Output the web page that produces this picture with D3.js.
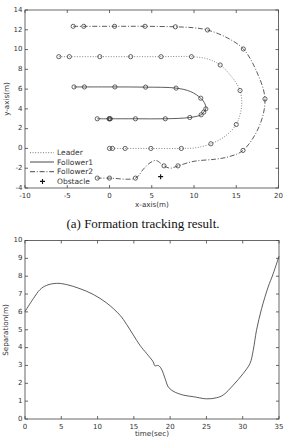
<!DOCTYPE html>
<html>
<head>
<meta charset="utf-8">
<script src="https://cdn.jsdelivr.net/npm/d3@7/dist/d3.min.js"></script>
<style>
  html, body { margin: 0; padding: 0; background: #fff; }
  svg { display: block; }
</style>
</head>
<body>
<svg id="chart" width="285" height="437"></svg>
<script>
// ---------------- DATA ----------------
// Top chart: trajectories (x, y in metres)
const leaderPath = [[-6.0,9.28],[-4.75,9.28],[-1.15,9.28],[2.5,9.28],[6.1,9.28],[9.7,9.28],[11.6,9.05],[13.1,8.44],[14.5,7.2],[15.45,5.86],[15.65,4.4],[15.4,3.3],[15.0,2.42],[13.7,1.25],[12.0,0.47],[10.3,0.08],[8.5,0],[4.9,0],[1.85,0],[0.35,0],[0,0]];
const leaderMarks = [[-6.0,9.28],[-4.75,9.28],[-1.15,9.28],[2.5,9.28],[6.1,9.28],[9.7,9.28],[13.1,8.44],[15.45,5.86],[15.0,2.42],[12.0,0.47],[8.5,0],[4.9,0],[1.85,0],[0.35,0],[0,0]];

const follower1Path = [[-4.2,6.22],[-2.97,6.22],[0.64,6.22],[4.27,6.2],[7.88,6.1],[9.6,5.75],[10.8,5.08],[11.3,4.5],[11.4,4.0],[11.15,3.67],[10.85,3.4],[9.5,3.13],[6.6,3.0],[3.07,3.0],[0,3.0],[-1.45,3.0]];
const follower1Marks = [[-4.2,6.22],[-2.97,6.22],[0.64,6.22],[4.27,6.2],[7.88,6.1],[10.8,5.08],[11.4,4.0],[11.15,3.67],[10.85,3.4],[9.5,3.13],[6.6,3.0],[3.07,3.0],[0.1,3.0],[0,3.0],[-0.05,3.0],[-1.45,3.0]];

const follower2Path = [[-4.3,12.35],[-3.05,12.35],[0.6,12.35],[4.2,12.35],[7.8,12.3],[10,12.2],[11.6,11.98],[13.9,11.2],[15.84,10.06],[17.4,7.8],[18.4,5.0],[17.7,2.2],[15.8,-0.2],[14.2,-0.82],[12.6,-1.08],[10,-1.3],[8.1,-1.76],[7.2,-2.0],[6.45,-1.76],[5.5,-1.22],[4.8,-1.45],[4.0,-2.1],[3.07,-3.0],[0,-3.0],[-1.45,-3.0]];
const follower2Marks = [[-4.3,12.35],[-3.05,12.35],[0.6,12.35],[4.2,12.35],[7.8,12.3],[11.6,11.98],[15.84,10.06],[18.4,5.0],[15.8,-0.2],[8.1,-1.76],[6.45,-1.76],[3.07,-3.0],[0,-3.0],[-1.45,-3.0]];

const obstacle = [[6.05,-2.85]];

const topXTicks = [-10,-5,0,5,10,15,20];
const topYTicks = [-4,-2,0,2,4,6,8,10,12,14];
const legendLabels = ["Leader","Follower1","Follower2","Obstacle"];

// Bottom chart: separation vs time
const sepTime  = [0,1.14,2.07,2.99,4.37,5.74,7.58,9.4,11.25,13.1,14.0,15.84,16.76,17.67,17.9,18.36,18.8,19.3,19.74,20.4,21.8,23.2,25.0,26.4,27.3,28.7,30.07,31.0,31.45,31.9,32.6,33.5,34.2,35.0];
const sepValue = [6.02,6.74,7.25,7.49,7.6,7.53,7.3,6.98,6.5,5.81,5.3,4.13,3.67,3.2,2.98,3.0,2.8,2.27,1.8,1.56,1.34,1.25,1.13,1.19,1.34,1.9,2.55,3.11,3.85,4.97,6.18,7.39,8.14,9.12];
const botXTicks = [0,5,10,15,20,25,30,35];
const botYTicks = [0,1,2,3,4,5,6,7,8,9,10];

// ---------------- DRAW ----------------
const svg = d3.select("#chart");
svg.append("rect").attr("width",285).attr("height",437).attr("fill","#fff");

const sans = "'DejaVu Sans', 'Liberation Sans', sans-serif";
const axisColor = "#444";
const labelColor = "#333";
const fs = 7;

function frame(g, x, y, xt, yt, tickLen) {
  const [x0,x1] = x.range(), [y0,y1] = y.range(); // y0 bottom, y1 top
  g.append("rect").attr("x",x0).attr("y",y1).attr("width",x1-x0).attr("height",y0-y1)
    .attr("fill","none").attr("stroke",axisColor).attr("stroke-width",0.8);
  xt.forEach(v => {
    const px = x(v);
    g.append("line").attr("x1",px).attr("x2",px).attr("y1",y0).attr("y2",y0-tickLen).attr("stroke",axisColor).attr("stroke-width",0.8);
    g.append("line").attr("x1",px).attr("x2",px).attr("y1",y1).attr("y2",y1+tickLen).attr("stroke",axisColor).attr("stroke-width",0.8);
    g.append("text").attr("x",px).attr("y",y0+9.6).attr("text-anchor","middle")
      .style("font-family",sans).style("font-size",fs+"px").attr("fill",labelColor).text(v);
  });
  yt.forEach(v => {
    const py = y(v);
    g.append("line").attr("x1",x0).attr("x2",x0+tickLen).attr("y1",py).attr("y2",py).attr("stroke",axisColor).attr("stroke-width",0.8);
    g.append("line").attr("x1",x1).attr("x2",x1-tickLen).attr("y1",py).attr("y2",py).attr("stroke",axisColor).attr("stroke-width",0.8);
    g.append("text").attr("x",x0-2.5).attr("y",py+1.8).attr("text-anchor","end")
      .style("font-family",sans).style("font-size",fs+"px").attr("fill",labelColor).text(v);
  });
}

// ---- Top chart ----
const xT = d3.scaleLinear().domain([-10,20]).range([25,278.5]);
const yT = d3.scaleLinear().domain([-4,14]).range([188,10]);
const gT = svg.append("g");

const lineT = d3.line().x(d=>xT(d[0])).y(d=>yT(d[1])).curve(d3.curveCatmullRom.alpha(0.5));

const styles = {
  leader:    {dash:"1,1.6", color:"#666", w:0.8},
  follower1: {dash:null, color:"#333", w:0.8},
  follower2: {dash:"5,1.8,1,1.8", color:"#333", w:0.8}
};

function drawTraj(path, marks, st) {
  const p = gT.append("path").attr("d",lineT(path)).attr("fill","none")
    .attr("stroke",st.color).attr("stroke-width",st.w);
  if (st.dash) p.attr("stroke-dasharray",st.dash);
  gT.selectAll(null).data(marks).enter().append("circle")
    .attr("cx",d=>xT(d[0])).attr("cy",d=>yT(d[1])).attr("r",2.1)
    .attr("fill","none").attr("stroke","#333").attr("stroke-width",0.75);
}
drawTraj(leaderPath, leaderMarks, styles.leader);
drawTraj(follower1Path, follower1Marks, styles.follower1);
drawTraj(follower2Path, follower2Marks, styles.follower2);

obstacle.forEach(d => {
  const cx = xT(d[0]), cy = yT(d[1]);
  gT.append("path").attr("d",`M${cx-2.5},${cy}H${cx+2.5}M${cx},${cy-2.5}V${cy+2.5}`)
    .attr("stroke","#111").attr("stroke-width",1.1);
});

frame(gT, xT, yT, topXTicks, topYTicks, 3);

// Legend
const legY = [152.7,162,171.7,181.4];
const legStyles = [styles.leader, styles.follower1, styles.follower2, null];
legendLabels.forEach((lab,i) => {
  const st = legStyles[i];
  if (st) {
    const l = gT.append("line").attr("x1",30).attr("x2",54).attr("y1",legY[i]).attr("y2",legY[i])
      .attr("stroke",st.color).attr("stroke-width",0.9);
    if (st.dash) l.attr("stroke-dasharray",st.dash);
  } else {
    const cx = 42.5, cy = legY[i];
    gT.append("path").attr("d",`M${cx-2.5},${cy}H${cx+2.5}M${cx},${cy-2.5}V${cy+2.5}`)
      .attr("stroke","#111").attr("stroke-width",1.1);
  }
  gT.append("text").attr("x",57).attr("y",legY[i]+2.6)
    .style("font-family",sans).style("font-size","7.5px")
    .attr("fill",labelColor).text(lab);
});

gT.append("text").attr("x",152).attr("y",206.5).attr("text-anchor","middle")
  .style("font-family",sans).style("font-size","7.2px").attr("fill",labelColor).text("x-axis(m)");
gT.append("text").attr("transform","translate(9,99) rotate(-90)").attr("text-anchor","middle")
  .style("font-family",sans).style("font-size","7.2px").attr("fill",labelColor).text("y-axis(m)");

svg.append("text").attr("x",143).attr("y",227.5).attr("text-anchor","middle")
  .style("font-family","'Liberation Serif', 'DejaVu Serif', serif").style("font-size","13px")
  .attr("fill","#111").text("(a) Formation tracking result.");

// ---- Bottom chart ----
const xB = d3.scaleLinear().domain([0,35]).range([25,279]);
const yB = d3.scaleLinear().domain([0,10]).range([419,240.5]);
const gB = svg.append("g");
const sepData = sepTime.map((t,i)=>[t,sepValue[i]]);
gB.append("path").attr("d", d3.line().x(d=>xB(d[0])).y(d=>yB(d[1])).curve(d3.curveCatmullRom.alpha(0.5))(sepData))
  .attr("fill","none").attr("stroke","#333").attr("stroke-width",0.8);
frame(gB, xB, yB, botXTicks, botYTicks, 3);

gB.append("text").attr("x",152).attr("y",436).attr("text-anchor","middle")
  .style("font-family",sans).style("font-size","7.2px").attr("fill",labelColor).text("time(sec)");
gB.append("text").attr("transform","translate(8,330) rotate(-90)").attr("text-anchor","middle")
  .style("font-family",sans).style("font-size","7.2px").attr("fill",labelColor).text("Separation(m)");
</script>
</body>
</html>
